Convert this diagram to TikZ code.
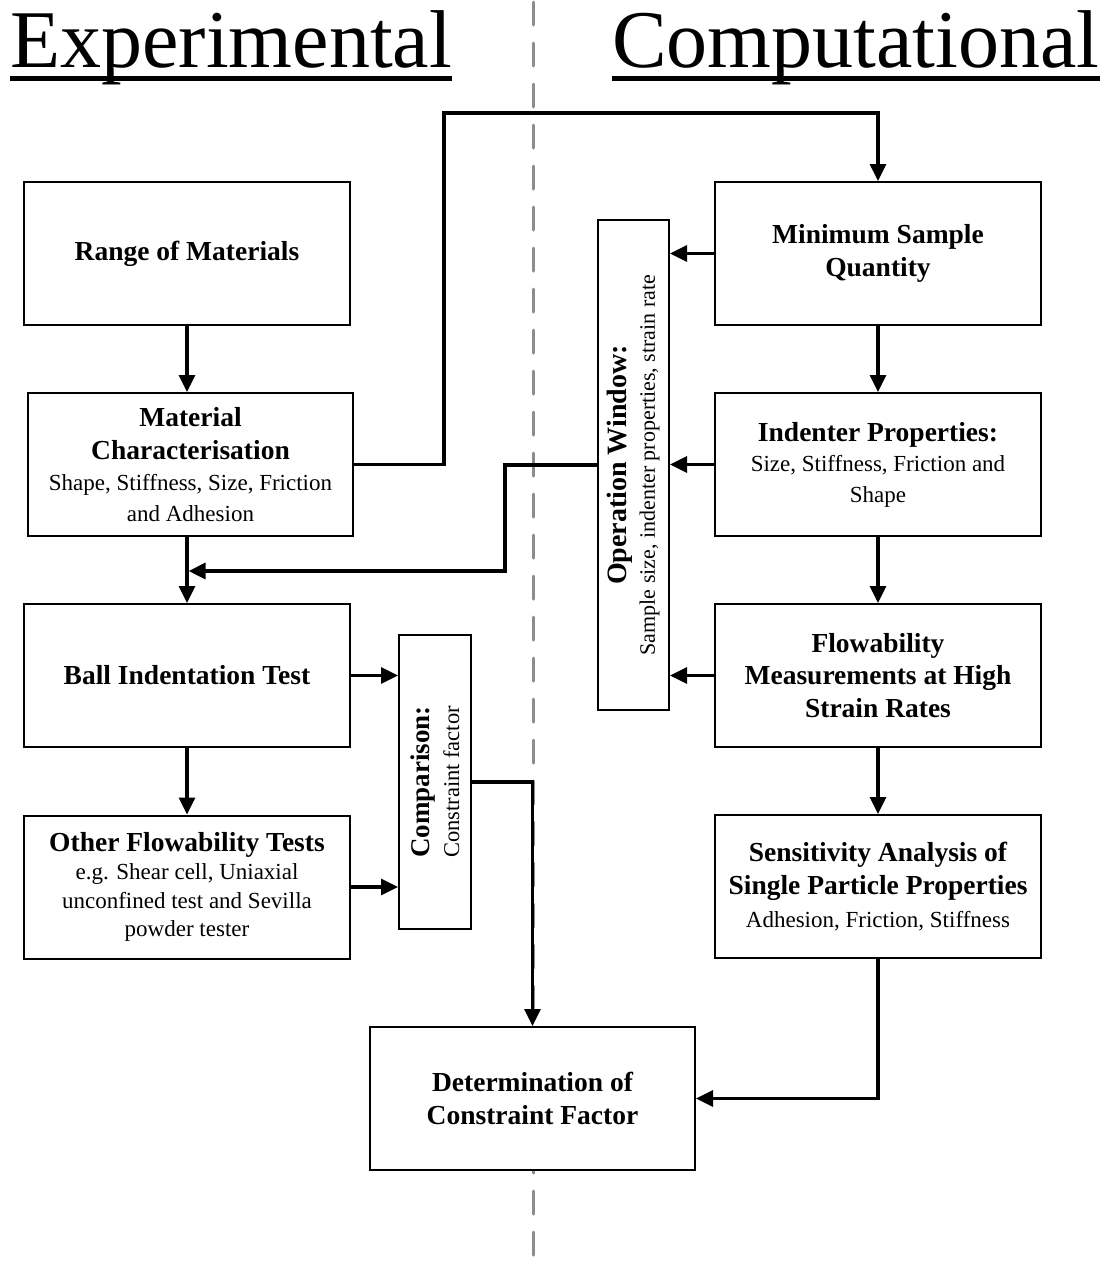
\documentclass[tikz,border=0pt]{standalone}
\usepackage{fontspec}
\setmainfont{Liberation Serif}
\usetikzlibrary{arrows.meta}
\definecolor{dashgray}{RGB}{140,140,140}
\tikzset{
  box/.style={draw, line width=2pt, fill=white, minimum width=326pt, minimum height=143pt,
              inner sep=0pt, text width=318pt, align=flush center},
  tallbox/.style={draw, line width=2pt, fill=white, inner sep=0pt},
  rottext/.style={rotate=90, inner sep=0pt, align=flush center},
  conn/.style={line width=3.2pt, -{Triangle[length=17pt,width=16pt]}},
  title/.style={anchor=base west, inner sep=0pt, font=\fontsize{82}{96}\selectfont},
  uline/.style={line width=4.5pt},
}
\begin{document}
\begin{tikzpicture}[x=1pt,y=-1pt]
\useasboundingbox (0,0) rectangle (1113,1270);
\fill[white] (0,0) rectangle (1113,1270);

% divider
\draw[dashgray, line width=3pt, dash pattern=on 23pt off 18pt, line cap=round] (533,2) -- (533,1270);

% titles
\node[title] (tE) at (10,67) {Experimental};
\node[title] (tC) at (612,67) {Computational};
\draw[uline] ([yshift=-11.5pt]tE.base west) -- ([yshift=-11.5pt]tE.base east);
\draw[uline] ([yshift=-11.5pt]tC.base west) -- ([yshift=-11.5pt]tC.base east);

% left column
\node[box] (rm) at (187,253.5) {\bfseries\fontsize{27.5}{33}\selectfont Range of Materials\par};
\node[box, minimum width=325pt] (mc) at (190.5,464.5) {{\bfseries\fontsize{27.5}{33}\selectfont Material\\Characterisation\par}{\fontsize{23}{31}\selectfont Shape, Stiffness, Size, Friction\\and Adhesion\par}};
\node[box] (bi) at (187,675.5) {\bfseries\fontsize{27.5}{33}\selectfont Ball Indentation Test\par};
\node[box] (of) at (187,887) {{\bfseries\fontsize{27.5}{33}\selectfont Other Flowability Tests\par}{\fontsize{23}{28.5}\selectfont e.g. Shear cell, Uniaxial\\unconfined test and Sevilla\\powder tester\par}};

% comparison
\node[tallbox, minimum width=71.5pt, minimum height=294pt] (cmp) at (434.75,782) {};
\node[rottext, text width=280pt] (cmpt) at (cmp.center) {{\bfseries\fontsize{27}{30}\selectfont Comparison:\par}{\fontsize{22.5}{30}\selectfont Constraint factor\par}};

% determination
\node[box, minimum width=325pt] (dt) at (532.5,1098.5) {\bfseries\fontsize{27.5}{33}\selectfont Determination of\\Constraint Factor\par};

% right column
\node[box] (ms) at (878,253.5) {\bfseries\fontsize{27.5}{33}\selectfont Minimum Sample\\Quantity\par};
\node[box] (ip) at (878,464.5) {{\bfseries\fontsize{27.5}{33}\selectfont Indenter Properties:\par}{\fontsize{23}{30.5}\selectfont Size, Stiffness, Friction and\\Shape\par}};
\node[box] (fm) at (878,675.5) {\bfseries\fontsize{27.5}{32.5}\selectfont Flowability\\Measurements at High\\Strain Rates\par};
\node[box] (se) at (878,886.5) {{\bfseries\fontsize{27.5}{33}\selectfont Sensitivity Analysis of\\Single Particle Properties\par}{\fontsize{23}{33}\selectfont Adhesion, Friction, Stiffness\par}};

% operation window
\node[tallbox, minimum width=71pt, minimum height=490pt] (opw) at (633.5,465) {};
\node[rottext, text width=480pt] (opwt) at (opw.center) {{\bfseries\fontsize{28}{28}\selectfont Operation Window:\par}{\fontsize{22}{28}\selectfont Sample size, indenter properties, strain rate\par}};

% connectors
\coordinate (c1) at (444,113);
\coordinate (c2) at (505,571);
\coordinate (c3) at (188.6,571);

\draw[conn] (rm.south) -- (rm.south |- mc.north);
\draw[conn] (bi.north |- mc.south) -- (bi.north);
\draw[conn] (bi.south) -- (of.north);
\draw[conn] (mc.east) -| (c1) -| (ms.north);
\draw[conn] (opw.west) -| (c2) -- (c3);
\draw[conn] (bi.east) -- (cmp.west |- bi.east);
\draw[conn] (of.east) -- (cmp.west |- of.east);
\draw[conn] (cmp.east) -| (dt.north);
\draw[conn] (se.south) |- (dt.east);

\draw[conn] (ms.west) -- (opw.east |- ms.west);
\draw[conn] (ip.west) -- (opw.east |- ip.west);
\draw[conn] (fm.west) -- (opw.east |- fm.west);

\draw[conn] (ms.south) -- (ip.north);
\draw[conn] (ip.south) -- (fm.north);
\draw[conn] (fm.south) -- (se.north);
\end{tikzpicture}
\end{document}
